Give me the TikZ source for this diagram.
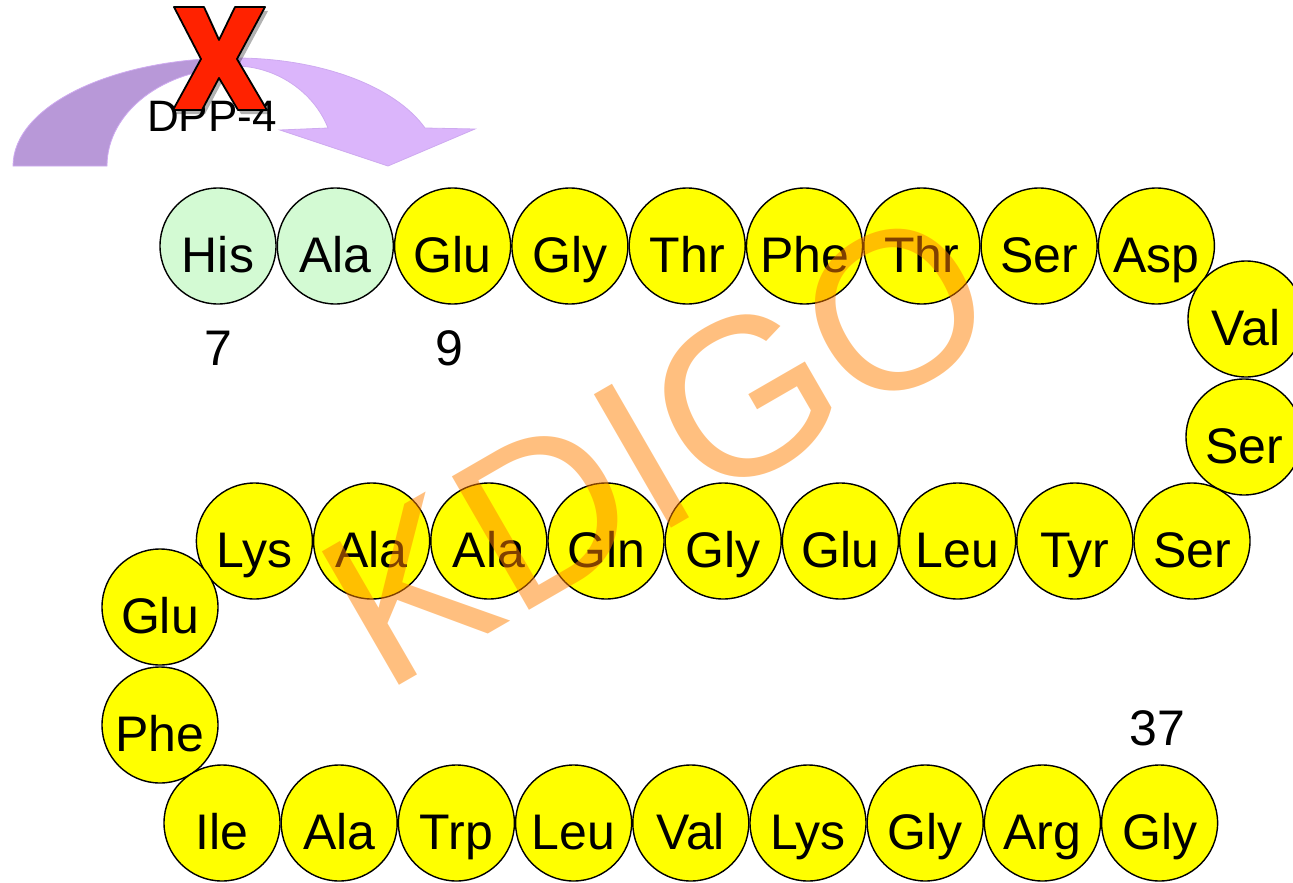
\documentclass[tikz,border=0pt]{standalone}
\usepackage{fontspec}
\setmainfont{Liberation Sans}
\definecolor{resyellow}{RGB}{255,255,0}
\definecolor{resgreen}{RGB}{211,250,211}
\definecolor{arrdark}{RGB}{184,152,216}
\definecolor{arrlight}{RGB}{219,181,251}
\definecolor{arredge}{RGB}{206,170,240}
\definecolor{xred}{RGB}{255,34,0}
\definecolor{wmorange}{RGB}{255,128,0}
\begin{document}
\begin{tikzpicture}[x=1pt,y=-1pt,
  res/.style={circle, draw=black, line width=1.4pt, fill=resyellow,
    minimum size=116pt, inner sep=0pt, text height=52pt, text depth=0pt,
    font=\fontsize{50}{60}\selectfont},
  resg/.style={res, fill=resgreen},
  num/.style={anchor=base, inner sep=0pt, font=\fontsize{50}{60}\selectfont},
  arrpart/.style={draw=arredge, line width=0.8pt},
  wmark/.style={rotate=30, text=wmorange, text opacity=0.5, inner sep=0pt,
    font=\fontsize{224}{230}\selectfont}
]
\useasboundingbox (0,0) rectangle (1293,883);

% curved DPP-4 arrow
\fill[arrdark, arrpart] (13,166) .. controls (13,106) and (112,58) .. (235,58)
  -- (235,68) .. controls (164,68) and (107,112) .. (107,166) -- cycle;
\fill[arrlight, arrpart] (235,58) .. controls (320,58) and (395,86) .. (425,128)
  -- (475,129) -- (388,166) -- (280,130) -- (328,128)
  .. controls (314,92) and (276,66) .. (235,66) -- cycle;
\node[anchor=base west, inner sep=0pt, font=\fontsize{44}{50}\selectfont] (dpp) at (147,131) {DPP-4};

% red cross
\fill[black, opacity=0.3] (177,11) -- (207,11) -- (222,44) -- (238,11) -- (268,11)
  -- (240,63) -- (270,114) -- (241,114) -- (222,82) -- (205,114) -- (176,114)
  -- (204,63) -- cycle;
\filldraw[fill=xred, draw=black, line width=1.8pt, line join=round]
  (174,7) -- (204,7) -- (219,40) -- (235,7) -- (265,7)
  -- (237,59) -- (267,110) -- (238,110) -- (219,78) -- (202,110) -- (173,110)
  -- (201,59) -- cycle;

% top row
\node[resg] (r7)  at (218,246)    {His};
\node[resg] (r8)  at (335.3,246)  {Ala};
\node[res]  (r9)  at (452.6,246)  {Glu};
\node[res]  (r10) at (569.9,246)  {Gly};
\node[res]  (r11) at (687.2,246)  {Thr};
\node[res]  (r12) at (804.5,246)  {Phe};
\node[res]  (r13) at (921.8,246)  {Thr};
\node[res]  (r14) at (1039.1,246) {Ser};
\node[res]  (r15) at (1156.4,246) {Asp};
% right turn
\node[res]  (r16) at (1246,319)   {Val};
\node[res]  (r17) at (1244,437)   {Ser};
% middle row
\node[res]  (r18) at (1192,541)   {Ser};
\node[res]  (r19) at (1074.8,541) {Tyr};
\node[res]  (r20) at (957.6,541)  {Leu};
\node[res]  (r21) at (840.4,541)  {Glu};
\node[res]  (r22) at (723.2,541)  {Gly};
\node[res]  (r23) at (606,541)    {Gln};
\node[res]  (r24) at (488.8,541)  {Ala};
\node[res]  (r25) at (371.6,541)  {Ala};
\node[res]  (r26) at (254.4,541)  {Lys};
% left turn
\node[res]  (r27) at (160,607)    {Glu};
\node[res]  (r28) at (160,725)    {Phe};
% bottom row
\node[res]  (r29) at (222,823)    {Ile};
\node[res]  (r30) at (339.2,823)  {Ala};
\node[res]  (r31) at (456.4,823)  {Trp};
\node[res]  (r32) at (573.6,823)  {Leu};
\node[res]  (r33) at (690.8,823)  {Val};
\node[res]  (r34) at (808,823)    {Lys};
\node[res]  (r35) at (925.2,823)  {Gly};
\node[res]  (r36) at (1042.4,823) {Arg};
\node[res]  (r37) at (1159.6,823) {Gly};

% position numbers
\node[num] (n7)  at (218,365)  {7};
\node[num] (n9)  at (449,365)  {9};
\node[num] (n37) at (1157,745) {37};

% watermark
\node[wmark] (wm) at (658,447) {KDIGO};
\end{tikzpicture}
\end{document}
